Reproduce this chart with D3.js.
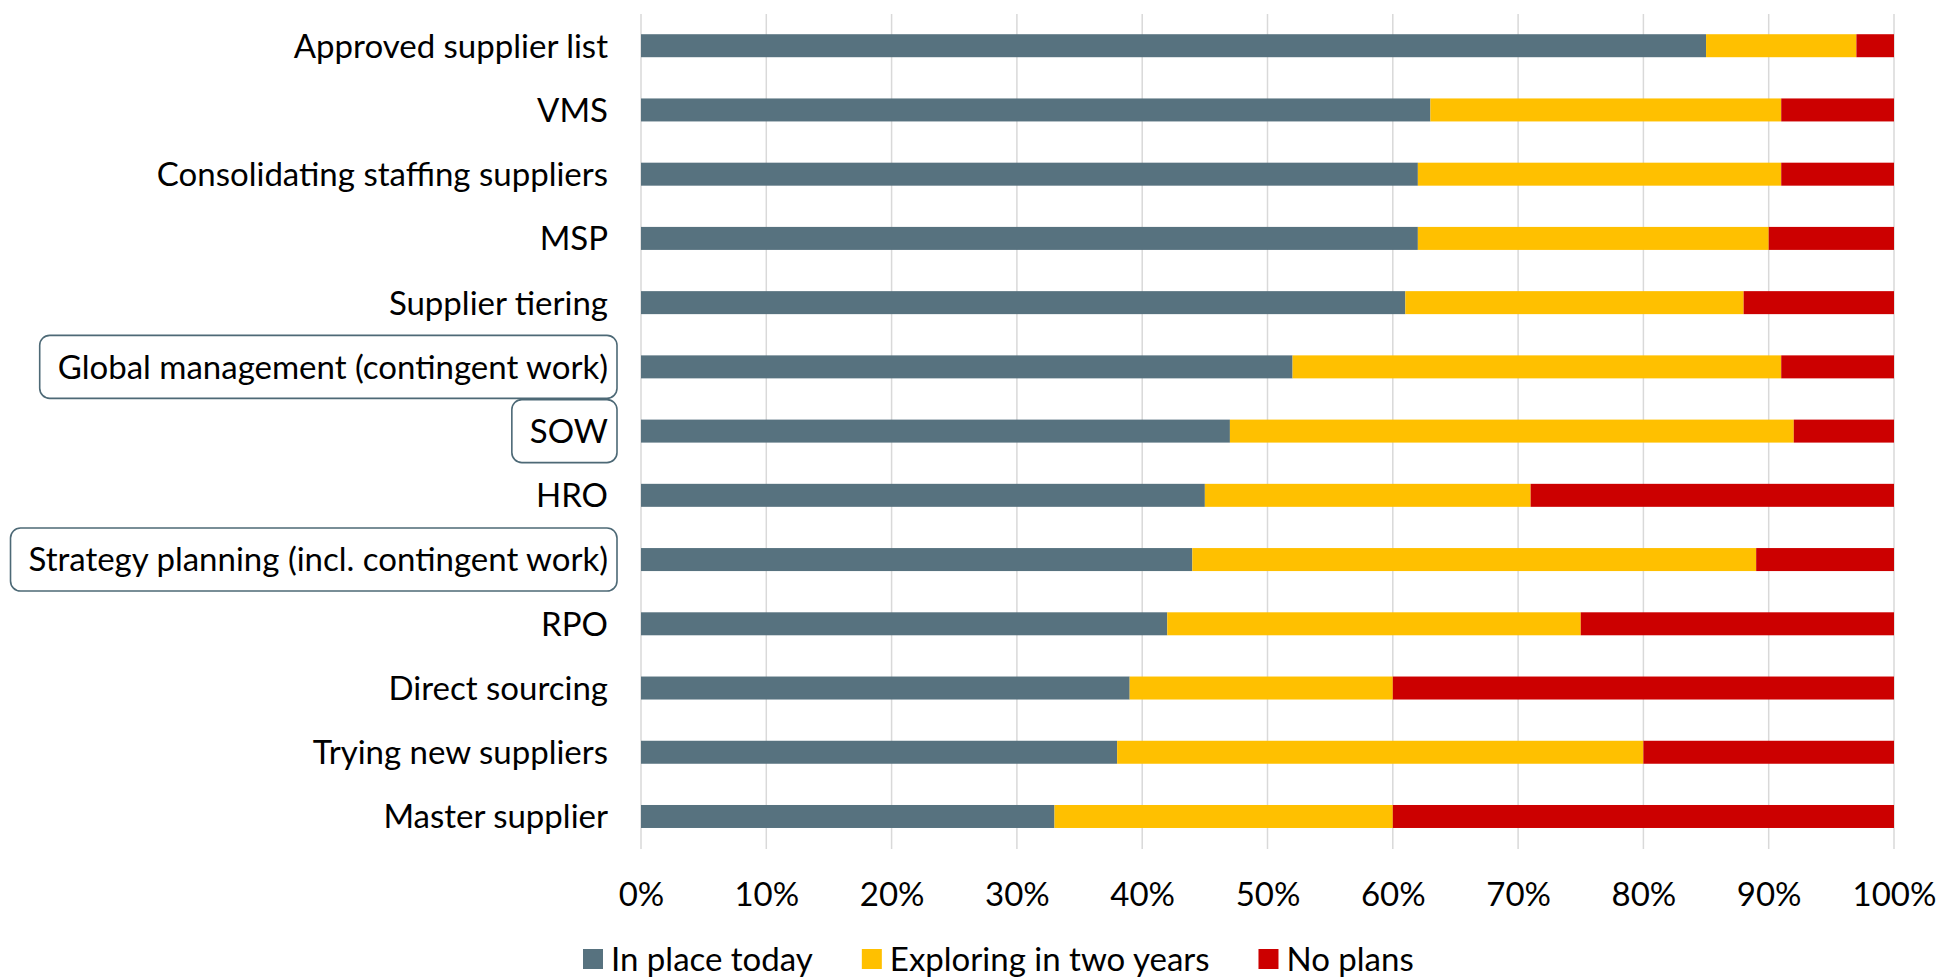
<!DOCTYPE html>
<html>
<head>
<meta charset="utf-8">
<script src="https://cdn.jsdelivr.net/npm/d3@7/dist/d3.min.js"></script>
<style>
  html, body { margin: 0; padding: 0; background: #fff; }
  svg { display: block; }
  text { font-family: Lato, "Open Sans", sans-serif; fill: #000; }
</style>
</head>
<body>
<svg id="chart" width="1937" height="978"></svg>
<script>
// Share of organisations per practice, stacked to 100%
const categories = [
  "Approved supplier list", "VMS", "Consolidating staffing suppliers", "MSP",
  "Supplier tiering", "Global management (contingent work)", "SOW", "HRO",
  "Strategy planning (incl. contingent work)", "RPO", "Direct sourcing",
  "Trying new suppliers", "Master supplier"
];
const inPlaceToday   = [85, 63, 62, 62, 61, 52, 47, 45, 44, 42, 39, 38, 33];
const exploringInTwo = [12, 28, 29, 28, 27, 39, 45, 26, 45, 33, 21, 42, 27];
const noPlans        = [ 3,  9,  9, 10, 12,  9,  8, 29, 11, 25, 40, 20, 40];
const seriesNames  = ["In place today", "Exploring in two years", "No plans"];
const seriesColors = ["#57727f", "#ffc000", "#cc0000"];
const tickValues   = [0, 10, 20, 30, 40, 50, 60, 70, 80, 90, 100];
const highlighted  = ["Global management (contingent work)", "SOW", "Strategy planning (incl. contingent work)"];

const svg = d3.select("#chart");
const fontSize = 33;

const x = d3.scaleLinear().domain([0, 100]).range([641, 1894]);
const y = d3.scaleBand().domain(categories).range([13.6, 848.6])
  .paddingInner(0.642).paddingOuter(0.321);

// vertical gridlines
svg.append("g").selectAll("line").data(tickValues).join("line")
  .attr("x1", d => x(d)).attr("x2", d => x(d))
  .attr("y1", 14).attr("y2", 849)
  .attr("stroke", "#d9d9d9").attr("stroke-width", 1.5);

// stacked bars
const rows = categories.map((c, i) => ({
  category: c,
  [seriesNames[0]]: inPlaceToday[i],
  [seriesNames[1]]: exploringInTwo[i],
  [seriesNames[2]]: noPlans[i]
}));
const stacked = d3.stack().keys(seriesNames)(rows);

svg.append("g").selectAll("g").data(stacked).join("g")
  .attr("fill", (d, i) => seriesColors[i])
  .selectAll("rect").data(d => d).join("rect")
  .attr("x", d => x(d[0]))
  .attr("width", d => x(d[1]) - x(d[0]))
  .attr("y", d => y(d.data.category))
  .attr("height", y.bandwidth());

// x axis tick labels
const xAxis = d3.axisBottom(x).tickValues(tickValues)
  .tickFormat(d => d + "%").tickSize(0).tickPadding(0);
const gx = svg.append("g").attr("transform", "translate(0,894)").call(xAxis);
gx.select(".domain").remove();
gx.selectAll("text")
  .attr("font-family", "Lato, 'Open Sans', sans-serif")
  .attr("font-size", fontSize).attr("fill", "#000")
  .attr("dy", "0.36em");

// category labels
const labelX = 608;
const labels = svg.append("g").selectAll("text").data(categories).join("text")
  .attr("x", labelX)
  .attr("y", d => y(d) + y.bandwidth() / 2)
  .attr("dy", "0.36em")
  .attr("text-anchor", "end")
  .attr("font-size", fontSize)
  .text(d => d);

// rounded frames around emphasised labels
labels.filter(d => highlighted.includes(d)).each(function(d) {
  const bb = this.getBBox();
  const cy = y(d) + y.bandwidth() / 2;
  svg.insert("rect", ":first-child")
    .attr("x", bb.x - 18)
    .attr("y", cy - 31.5)
    .attr("width", labelX + 9 - (bb.x - 18))
    .attr("height", 63)
    .attr("rx", 10).attr("ry", 10)
    .attr("fill", "none")
    .attr("stroke", "#4d6976").attr("stroke-width", 1.6);
});

// legend
const legend = svg.append("g");
let lx = 583;
seriesNames.forEach((name, i) => {
  legend.append("rect")
    .attr("x", lx).attr("y", 949).attr("width", 20).attr("height", 20)
    .attr("fill", seriesColors[i]);
  const t = legend.append("text")
    .attr("x", lx + 28).attr("y", 959).attr("dy", "0.36em")
    .attr("font-size", fontSize).text(name);
  lx += 28 + t.node().getComputedTextLength() + 49;
});
</script>
</body>
</html>
